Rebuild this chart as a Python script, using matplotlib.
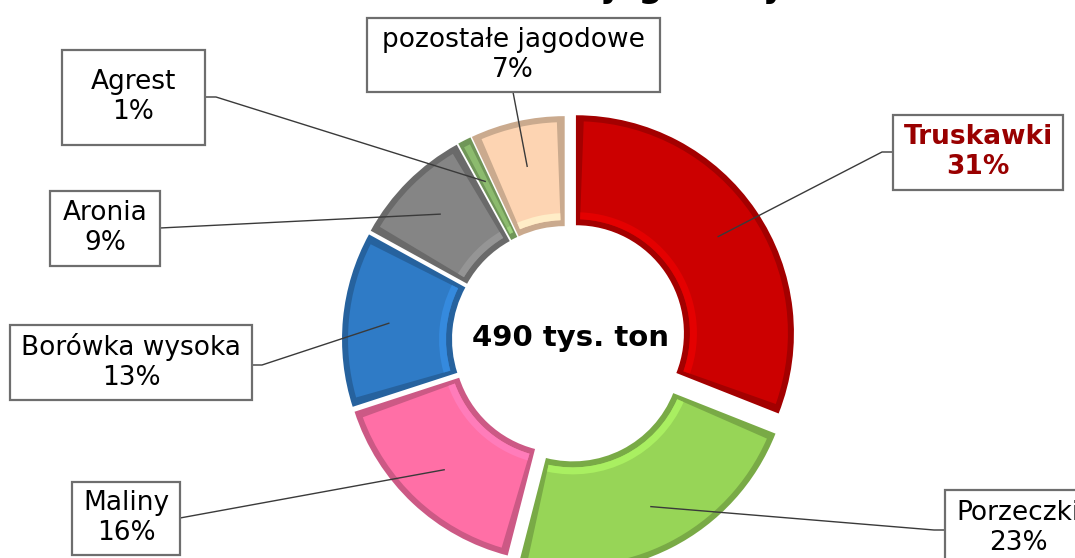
import numpy as np
import matplotlib
matplotlib.use("Agg")
import matplotlib.pyplot as plt
from matplotlib.patches import Wedge, Rectangle
from matplotlib.colors import to_rgb

W, H = 1075, 558

categories = ["Truskawki", "Porzeczki", "Maliny", "Borówka wysoka", "Aronia", "Agrest", "pozostałe jagodowe"]
shares = [31, 23, 16, 13, 9, 1, 7]
colors = ["#CC0000", "#97D557", "#FF6FA6", "#2F7BC6", "#858585", "#8CBB6E", "#FDD4B2"]
explode_px = [12, 15, 6, 6, 6, 6, 6]
total_label = "490 tys. ton"
title = "Struktura zbiorów owoców jagodowych w 2016 r."

# label boxes: (centre x, centre y, width, height) in screen pixels
boxes = [(978, 152, 170, 75), (1018, 528, 146, 76), (126, 518, 108, 73),
         (131, 362, 242, 75), (105, 228, 110, 75), (133, 97, 143, 95), (513, 55, 293, 74)]
# where the leader line leaves the box, plus an optional elbow
anchors = [[(893, 152), (882, 152)], [(945, 530), (934, 530)], [(180, 518)],
           [(252, 365), (262, 365)], [(160, 228)], [(205, 97), (216, 97)], [(513, 92)]]

CX, CY = 566, 340
R_OUT, R_IN = 218, 108


def sy(y):
    return H - y


def shade(c, f):
    r, g, b = to_rgb(c)
    return (min(r * f, 1), min(g * f, 1), min(b * f, 1))


fig = plt.figure(figsize=(W / 100, H / 100), dpi=100)
ax = fig.add_axes([0, 0, 1, 1])

wedges, _ = ax.pie(shares, colors=[shade(c, 0.8) for c in colors], startangle=90, counterclock=False,
                   center=(CX, sy(CY)), radius=R_OUT, explode=explode_px,
                   wedgeprops=dict(width=R_OUT - R_IN, linewidth=0), frame=True)
ax.set_xlim(0, W)
ax.set_ylim(0, H)
ax.set_aspect("equal")
ax.axis("off")

# bevel: base colour inset on top of a darker rim
for w, c in zip(wedges, colors):
    inset = 6
    r_mid = w.r - w.width / 2
    span = w.theta2 - w.theta1
    dth = min(np.degrees(inset / r_mid), span * 0.25)
    ax.add_patch(Wedge(w.center, w.r - inset, w.theta1 + dth, w.theta2 - dth,
                       width=w.width - 2 * inset, facecolor=c, linewidth=0))
    # soft highlight along the inner edge
    ax.add_patch(Wedge(w.center, w.r - w.width + inset + 7, w.theta1 + dth, w.theta2 - dth,
                       width=7, facecolor=shade(c, 1.12), linewidth=0))

ax.text(CX + 4, sy(CY - 2), total_label, ha="center", va="center", fontsize=21,
        fontweight="bold", color="black")

for i, (w, name, pct) in enumerate(zip(wedges, categories, shares)):
    th = np.radians((w.theta1 + w.theta2) / 2)
    tx = w.center[0] + 172 * np.cos(th)
    ty = w.center[1] + 172 * np.sin(th)
    pts = [(x, sy(y)) for x, y in anchors[i]] + [(tx, ty)]
    ax.plot([p[0] for p in pts], [p[1] for p in pts], color="#3a3a3a", lw=1.0, zorder=5)

    bx, by, bw, bh = boxes[i]
    ax.add_patch(Rectangle((bx - bw / 2, sy(by + bh / 2)), bw, bh, facecolor="white",
                           edgecolor="#6e6e6e", linewidth=1.6, zorder=6))
    bold = i == 0
    ax.text(bx, sy(by), f"{name}\n{pct}%", ha="center", va="center", fontsize=19,
            linespacing=1.2, color="#990000" if bold else "black",
            fontweight="bold" if bold else "normal", zorder=7)

# title sits mostly above the visible area, as in the original crop
ax.text(551, sy(-3), title, ha="center", va="baseline", fontsize=24, fontweight="bold", color="black")

fig.savefig("out.png", dpi=100)
